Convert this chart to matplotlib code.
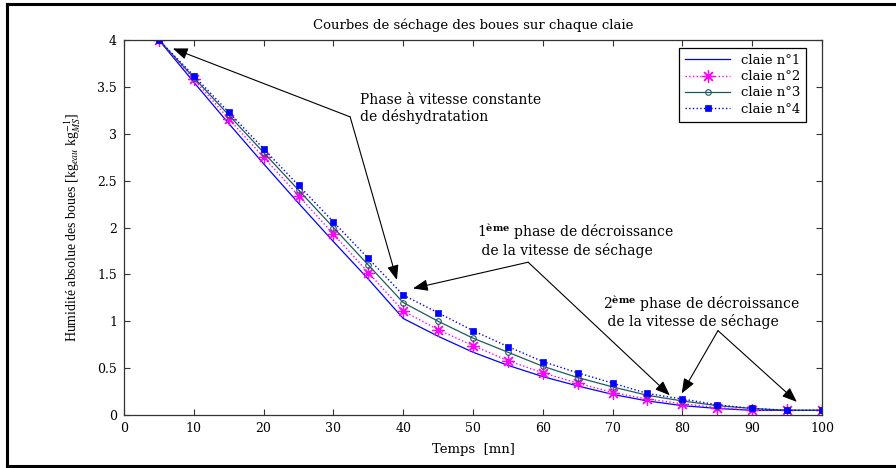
"""
Courbes de sechage des boues - recreation matplotlib
"""

import matplotlib
matplotlib.use('Agg')
import matplotlib.pyplot as plt
from matplotlib.lines import Line2D

plt.rcParams['font.family'] = ['DejaVu Serif']
plt.rcParams['mathtext.fontset'] = 'dejavuserif'

# Donnees
temps = [5, 10, 15, 20, 25, 30, 35, 40, 45, 50, 55, 60, 65, 70, 75, 80, 85, 90, 95, 100]
claie1 = [4.0, 3.55, 3.11, 2.68, 2.26, 1.85, 1.45, 1.03, 0.84, 0.67, 0.53, 0.41, 0.31,
          0.22, 0.15, 0.10, 0.07, 0.05, 0.05, 0.05]
claie2 = [4.0, 3.58, 3.16, 2.75, 2.34, 1.93, 1.52, 1.11, 0.91, 0.74, 0.58, 0.45, 0.34,
          0.24, 0.17, 0.12, 0.08, 0.05, 0.05, 0.05]
claie3 = [4.0, 3.60, 3.20, 2.80, 2.40, 2.00, 1.60, 1.20, 1.00, 0.82, 0.67, 0.52, 0.40,
          0.30, 0.21, 0.15, 0.10, 0.07, 0.05, 0.05]
claie4 = [4.0, 3.62, 3.23, 2.84, 2.45, 2.06, 1.67, 1.28, 1.09, 0.90, 0.73, 0.57, 0.45,
          0.34, 0.23, 0.17, 0.11, 0.07, 0.05, 0.05]
labels = ['claie n°1', 'claie n°2', 'claie n°3', 'claie n°4']

COLORS = {
    'c1': '#0000ff',
    'c2': '#ff00ff',
    'c3': '#1e5a5a',
    'c4': '#0000ff',
}

fig = plt.figure(figsize=(8.96, 4.68), dpi=100)
ax = fig.add_axes([0.1384, 0.1132, 0.7790, 0.8013])

ax.plot(temps, claie1, '-', color=COLORS['c1'], lw=0.9, label=labels[0])
ax.plot(temps, claie2, ':', color=COLORS['c2'], lw=1.0, marker=(8, 2, 0), ms=9,
        mew=0.9, label=labels[1])
ax.plot(temps, claie3, '-', color=COLORS['c3'], lw=0.9, marker='o', ms=4,
        mfc='none', mew=0.8, label=labels[2])
ax.plot(temps, claie4, ':', color=COLORS['c4'], lw=1.0, marker='s', ms=4.5,
        mew=0.5, label=labels[3])

ax.set_xlim(0, 100)
ax.set_ylim(0, 4)
ax.set_xticks(range(0, 101, 10))
ax.set_yticks([0, 0.5, 1, 1.5, 2, 2.5, 3, 3.5, 4])
ax.set_yticklabels(['0', '0.5', '1', '1.5', '2', '2.5', '3', '3.5', '4'])
ax.tick_params(direction='in', top=True, right=True, length=4, width=0.8,
               labelsize=9, colors='#333333', labelcolor='black', pad=5)
for sp in ax.spines.values():
    sp.set_linewidth(0.9)
    sp.set_color('#333333')

ax.set_title('Courbes de séchage des boues sur chaque claie', fontsize=9.5, pad=8)
ax.set_xlabel('Temps  [mn]', fontsize=9.5, labelpad=6)
ax.set_ylabel(r'Humidité absolue des boues [kg$_{eau}$ kg$_{MS}^{-1}$]',
              fontsize=10, labelpad=10, family=['Liberation Serif'],
              math_fontfamily='stix')

leg = ax.legend(loc='upper right', bbox_to_anchor=(0.977, 0.979), fontsize=9.5,
                fancybox=False, framealpha=1, edgecolor='black',
                handlelength=3.4, borderpad=0.45, labelspacing=0.25,
                borderaxespad=0)
leg.get_frame().set_linewidth(0.9)

# annotations
aprops = dict(arrowstyle='-|>,head_length=0.9,head_width=0.35', color='black',
              lw=0.8, shrinkA=0, shrinkB=0)

# phase a vitesse constante
bend1 = (32.4, 3.18)
ax.annotate('', xy=(7.0, 3.91), xytext=bend1, arrowprops=aprops)
ax.annotate('', xy=(39.1, 1.44), xytext=bend1, arrowprops=aprops)
ax.text(33.8, 3.27, 'Phase à vitesse constante\nde déshydratation', fontsize=10,
        va='center', ha='left', linespacing=1.1)

# 1ere phase de decroissance
bend2 = (57.9, 1.63)
ax.annotate('', xy=(41.4, 1.35), xytext=bend2, arrowprops=aprops)
ax.annotate('', xy=(78.2, 0.21), xytext=bend2, arrowprops=aprops)
ax.text(50.6, 1.87, '1$^{\\mathbf{ème}}$ phase de décroissance\n de la vitesse de séchage',
        fontsize=10, va='center', ha='left', linespacing=1.05)

# 2eme phase de decroissance
bend3 = (85.1, 0.90)
ax.annotate('', xy=(79.9, 0.23), xytext=bend3, arrowprops=aprops)
ax.annotate('', xy=(96.4, 0.14), xytext=bend3, arrowprops=aprops)
ax.text(68.6, 1.11, '2$^{\\mathbf{ème}}$ phase de décroissance\n de la vitesse de séchage',
        fontsize=10, va='center', ha='left', linespacing=1.0)

# cadre de la figure
for xs, ys in [([7 / 896, 1.0], [1 - 4 / 468] * 2),
               ([7 / 896] * 2, [1 - 4 / 468, 1 - 466 / 468]),
               ([7 / 896, 1.0], [1 - 466 / 468] * 2)]:
    fig.add_artist(Line2D(xs, ys, color='black', lw=2.2, transform=fig.transFigure))

fig.savefig('out.png', dpi=100)
